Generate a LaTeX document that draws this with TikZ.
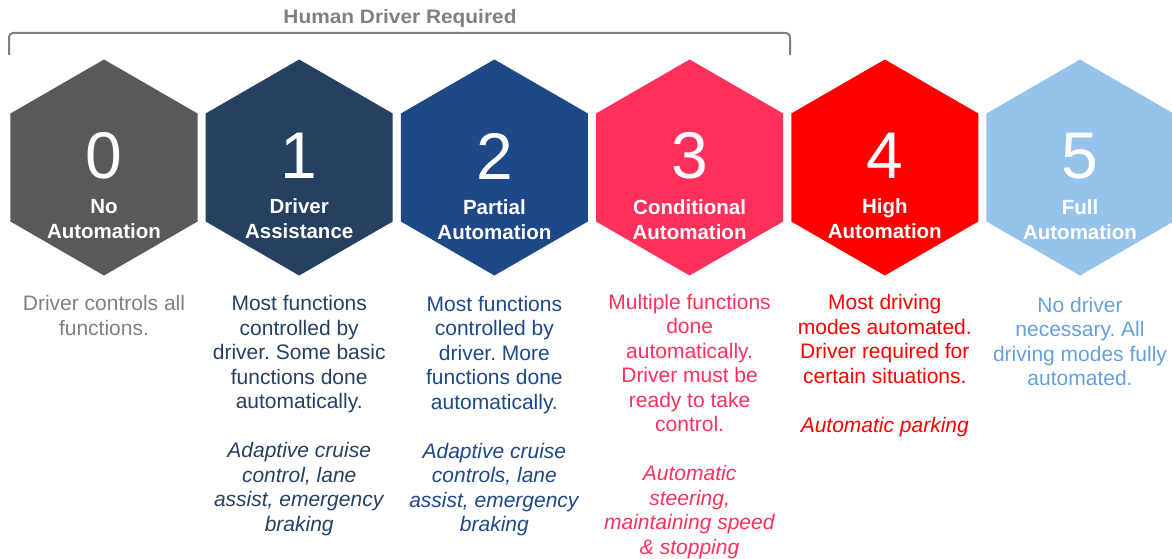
\documentclass[tikz,border=0pt]{standalone}
\usepackage{fontspec}
\setmainfont{Liberation Sans}
\newfontfamily\widefont[FakeStretch=1.07]{Liberation Sans}
\usepackage{tikz}
\usetikzlibrary{shapes.geometric,positioning}
\frenchspacing

\definecolor{lvgray}{RGB}{89,89,89}
\definecolor{lvnavy}{RGB}{38,64,97}
\definecolor{lvblue}{RGB}{30,72,135}
\definecolor{lvpink}{RGB}{255,48,92}
\definecolor{lvred}{RGB}{255,0,0}
\definecolor{lvsky}{RGB}{150,195,235}
\definecolor{txgray}{RGB}{128,128,128}
\definecolor{txsky}{RGB}{100,160,222}

\tikzset{
  hexa/.style={regular polygon,regular polygon sides=6,shape border rotate=30,
    minimum size=216pt,inner sep=0pt,outer sep=0pt,draw=none,fill=#1},
  digit/.style={inner sep=0pt,text=white,font=\fontsize{66}{70}\selectfont},
  lvname/.style={inner sep=0pt,align=center,text=white,
    font=\bfseries\fontsize{20.5}{25}\selectfont},
  desc/.style={anchor=north,inner sep=0pt,align=center,text=#1,
    font=\fontsize{21}{24.5}\selectfont},
  brk/.style={draw=txgray,line width=2pt,rounded corners=4pt},
  hdrtext/.style={inner sep=0pt,text=txgray,font=\widefont\bfseries\fontsize{19.5}{22}\selectfont}
}

\begin{document}
\begin{tikzpicture}[x=1pt,y=-1pt]
\useasboundingbox (0,0) rectangle (1172,559);

% bracket over levels 0 to 3
\node[hdrtext] (hdr) at (400,18) {Human Driver Required};
\coordinate (bl) at (9,55);
\coordinate (br) at (790,55);
\draw[brk] (bl) -- ++(0,-22) -| (br);

% hexagons
\node[hexa=lvgray] (h0) at (104,167.5) {};
\node[hexa=lvnavy] (h1) at (299.2,167.5) {};
\node[hexa=lvblue] (h2) at (494.4,167.5) {};
\node[hexa=lvpink] (h3) at (689.6,167.5) {};
\node[hexa=lvred]  (h4) at (884.8,167.5) {};
\node[hexa=lvsky]  (h5) at (1080,167.5) {};

% level numbers
\node[digit] (d0) at ([yshift=11.5pt]h0.center) {0};
\node[digit] (d1) at ([yshift=11.5pt]h1.center) {1};
\node[digit] (d2) at ([yshift=11.5pt]h2.center) {2};
\node[digit] (d3) at ([yshift=11.5pt]h3.center) {3};
\node[digit] (d4) at ([yshift=11.5pt]h4.center) {4};
\node[digit] (d5) at ([yshift=11.5pt]h5.center) {5};

% level names
\node[lvname,below=20pt of d0] (l0) {No\\Automation};
\node[lvname,below=20pt of d1] (l1) {Driver\\Assistance};
\node[lvname,below=20pt of d2] (l2) {Partial\\Automation};
\node[lvname,below=20pt of d3] (l3) {Conditional\\Automation};
\node[lvname,below=20pt of d4] (l4) {High\\Automation};
\node[lvname,below=20pt of d5] (l5) {Full\\Automation};

% descriptions
\node[desc=txgray,below=54pt of l0] (t0) {\strut Driver controls all\\functions.};
\node[desc=lvnavy,below=54pt of l1] (t1) {\strut Most functions\\controlled by\\driver. Some basic\\functions done\\automatically.\\[24.5pt]
  \textit{Adaptive cruise}\\\textit{control, lane}\\\textit{assist, emergency}\\\textit{braking}};
\node[desc=lvblue,below=54pt of l2] (t2) {\strut Most functions\\controlled by\\driver. More\\functions done\\automatically.\\[24.5pt]
  \textit{Adaptive cruise}\\\textit{controls, lane}\\\textit{assist, emergency}\\\textit{braking}};
\node[desc=lvpink,below=52pt of l3] (t3) {\strut Multiple functions\\done\\automatically.\\Driver must be\\ready to take\\control.\\[24.5pt]
  \textit{Automatic}\\\textit{steering,}\\\textit{maintaining speed}\\\textit{\& stopping}};
\node[desc=lvred,below=53pt of l4] (t4) {\strut Most driving\\modes automated.\\Driver required for\\certain situations.\\[24.5pt]
  \textit{Automatic parking}};
\node[desc=txsky,below=55pt of l5] (t5) {\strut No driver\\necessary. All\\driving modes fully\\automated.};
\end{tikzpicture}
\end{document}
